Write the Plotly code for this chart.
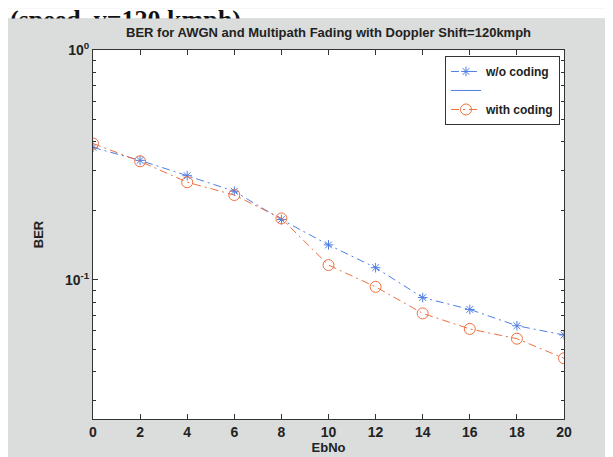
import plotly.graph_objects as go

ebno = [0, 2, 4, 6, 8, 10, 12, 14, 16, 18, 20]
ber_uncoded = [0.377, 0.331, 0.284, 0.243, 0.183, 0.142, 0.113, 0.0838, 0.0744, 0.0632, 0.0576]
ber_coded = [0.392, 0.328, 0.266, 0.234, 0.185, 0.116, 0.0933, 0.0715, 0.0612, 0.0555, 0.0456]
x_ticks = [0, 2, 4, 6, 8, 10, 12, 14, 16, 18, 20]
y_ticks = [0.1, 1]
y_ticktext = ["10<sup>-1</sup>", "10<sup>0</sup>"]
y_minor = [0.03, 0.04, 0.05, 0.06, 0.07, 0.08, 0.09, 0.2, 0.3, 0.4, 0.5, 0.6, 0.7, 0.8, 0.9]

BLUE = "#4f7fe3"
ORANGE = "#f0703f"
GRAY = "#dadddc"
FONT = "Liberation Sans"
DASH = "8px,4px,2px,4px"

fig = go.Figure()
fig.add_trace(go.Scatter(
    x=ebno, y=ber_uncoded, name="w/o coding", mode="lines+markers",
    line=dict(color=BLUE, width=1, dash=DASH),
    marker=dict(symbol="asterisk-open", size=8, color=BLUE, line=dict(color=BLUE, width=1)),
))
fig.add_trace(go.Scatter(
    x=[None], y=[None], name="", mode="lines",
    line=dict(color=BLUE, width=1),
))
fig.add_trace(go.Scatter(
    x=ebno, y=ber_coded, name="with coding", mode="lines+markers",
    line=dict(color=ORANGE, width=1, dash=DASH),
    marker=dict(symbol="circle-open", size=11, color=ORANGE, line=dict(color=ORANGE, width=1)),
))

W, H = 613, 457
L, R, T, B = 85, 57, 42, 44
PW, PH = W - L - R, H - T - B


def px_y(p):
    """paper y for a pixel row measured from the top of the page"""
    return 1 + (T - p) / PH


def px_x(p):
    return (p - L) / PW


fig.update_layout(
    width=W, height=H,
    margin=dict(l=L, r=R, t=T, b=B),
    paper_bgcolor=GRAY, plot_bgcolor="white",
    showlegend=True,
    legend=dict(
        x=px_x(552), y=px_y(48), xanchor="right", yanchor="top",
        bgcolor="white", bordercolor="#333333", borderwidth=1,
        font=dict(family=FONT, size=12, color="#222222", weight="bold"),
        tracegroupgap=0, itemwidth=30,
    ),
    xaxis=dict(
        range=[0, 20], tickvals=x_ticks, ticks="inside", ticklen=5, tickcolor="#333333",
        showline=True, linecolor="#333333", linewidth=1, mirror="ticks",
        showgrid=False, zeroline=False,
        tickfont=dict(family=FONT, size=14, color="#222222", weight="bold"),
        title=dict(text="EbNo", font=dict(family=FONT, size=13, color="#222222", weight="bold"), standoff=4),
    ),
    yaxis=dict(
        type="log", range=[-1.605, 0], tickvals=y_ticks, ticktext=y_ticktext,
        ticks="inside", ticklen=5, tickcolor="#333333",
        showline=True, linecolor="#333333", linewidth=1, mirror="ticks",
        showgrid=False, zeroline=False,
        minor=dict(tickvals=y_minor, ticks="inside", ticklen=3, tickcolor="#333333", showgrid=False),
        tickfont=dict(family=FONT, size=14, color="#222222", weight="bold"),
        title=dict(text="BER", font=dict(family=FONT, size=13, color="#222222", weight="bold"), standoff=18),
    ),
    shapes=[
        dict(type="rect", xref="paper", yref="paper", layer="above",
             x0=px_x(0), x1=px_x(W), y0=px_y(10), y1=px_y(0),
             fillcolor="white", line=dict(width=0)),
    ],
    annotations=[
        dict(text="(speed  v=120 kmph)", xref="paper", yref="paper",
             x=px_x(0), y=px_y(-5), xanchor="left", yanchor="top",
             showarrow=False, font=dict(family="Liberation Serif", size=26, color="#111111", weight="bold")),
        dict(text="&nbsp;", xref="paper", yref="paper",
             x=px_x(0), y=px_y(10), xanchor="left", yanchor="top",
             width=W, height=20, borderpad=0, bgcolor=GRAY, showarrow=False,
             font=dict(size=4)),
        dict(text="BER for AWGN and Multipath Fading with Doppler Shift=120kmph",
             xref="paper", yref="paper", x=0.5, y=px_y(24),
             xanchor="center", yanchor="middle", showarrow=False,
             font=dict(family=FONT, size=13, color="#222222", weight="bold")),
    ],
)

fig.write_html("out.html")
